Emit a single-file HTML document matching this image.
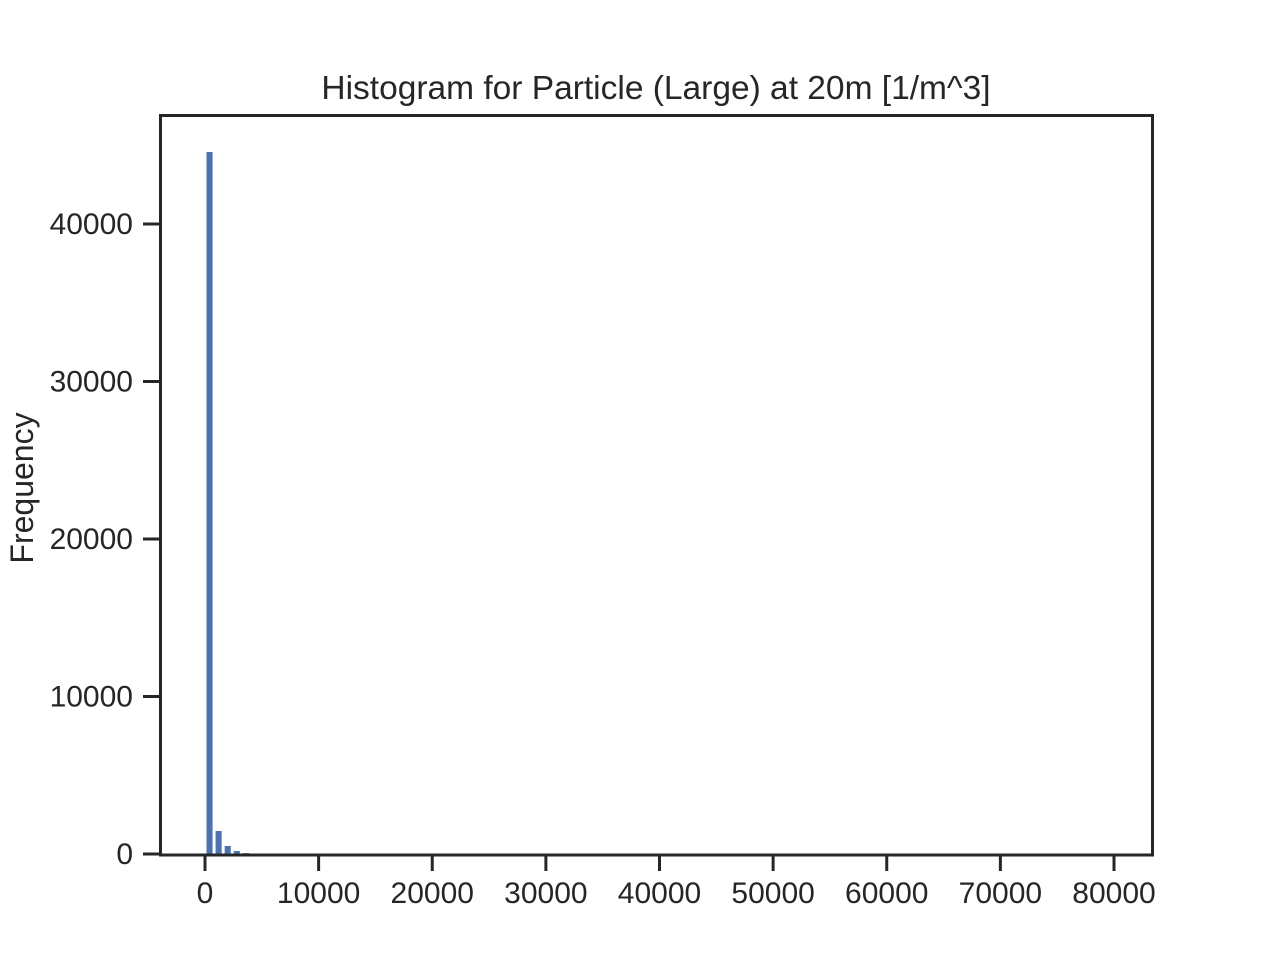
<!DOCTYPE html>
<html><head><meta charset="utf-8"><style>
html,body{margin:0;padding:0;background:#fff;}
svg{display:block;font-family:"Liberation Sans",sans-serif;}
</style></head><body>
<svg id="chart" width="1280" height="960" viewBox="0 0 1280 960">
<text x="656" y="99" text-anchor="middle" font-size="33.5" fill="#262626">Histogram for Particle (Large) at 20m [1/m^3]</text>
<g id="bars"></g>
<g id="xt"></g>
<g id="yt"></g>
<rect x="160.5" y="115.5" width="992" height="739.5" fill="none" stroke="#262626" stroke-width="3"/>
<text transform="translate(33,488) rotate(-90)" text-anchor="middle" font-size="32" fill="#262626">Frequency</text>
</svg>
<script>
const binStart = 0;
const binWidth = 800;
const counts = [44570, 1460, 510, 190, 60, 25, 10, 5];
const xTicks = [0,10000,20000,30000,40000,50000,60000,70000,80000];
const yTicks = [0,10000,20000,30000,40000];
const NS = "http://www.w3.org/2000/svg";
function xs(v){ return 205 + v * (909/80000); }
function ys(v){ return 854 - v * (630/40000); }
const bars = document.getElementById('bars');
counts.forEach((c,i)=>{
  const x0 = xs(binStart + i*binWidth), x1 = xs(binStart + (i+1)*binWidth);
  const r = document.createElementNS(NS,'rect');
  r.setAttribute('x', x0+1.5); r.setAttribute('width', Math.max(0,x1-x0-3));
  r.setAttribute('y', ys(c)); r.setAttribute('height', ys(0)-ys(c));
  r.setAttribute('fill', '#4c72b0');
  
  
  bars.appendChild(r);
});
const xt = document.getElementById('xt');
xTicks.forEach(t=>{
  const l = document.createElementNS(NS,'line');
  l.setAttribute('x1', xs(t)); l.setAttribute('x2', xs(t));
  l.setAttribute('y1', 855); l.setAttribute('y2', 871);
  l.setAttribute('stroke', '#262626'); l.setAttribute('stroke-width', 3);
  
  
  xt.appendChild(l);
  const tx = document.createElementNS(NS,'text');
  tx.setAttribute('x', xs(t)); tx.setAttribute('y', 903);
  tx.setAttribute('text-anchor', 'middle'); tx.setAttribute('font-size', 30); tx.setAttribute('fill', '#262626');
  tx.textContent = t;
  
  
  xt.appendChild(tx);
});
const yt = document.getElementById('yt');
yTicks.forEach(t=>{
  const l = document.createElementNS(NS,'line');
  l.setAttribute('x1', 143); l.setAttribute('x2', 160);
  l.setAttribute('y1', ys(t)); l.setAttribute('y2', ys(t));
  l.setAttribute('stroke', '#262626'); l.setAttribute('stroke-width', 3);
  
  
  yt.appendChild(l);
  const tx = document.createElementNS(NS,'text');
  tx.setAttribute('x', 133); tx.setAttribute('y', ys(t)+10);
  tx.setAttribute('text-anchor', 'end'); tx.setAttribute('font-size', 30); tx.setAttribute('fill', '#262626');
  tx.textContent = t;
  
  
  yt.appendChild(tx);
});
</script>
</body></html>
